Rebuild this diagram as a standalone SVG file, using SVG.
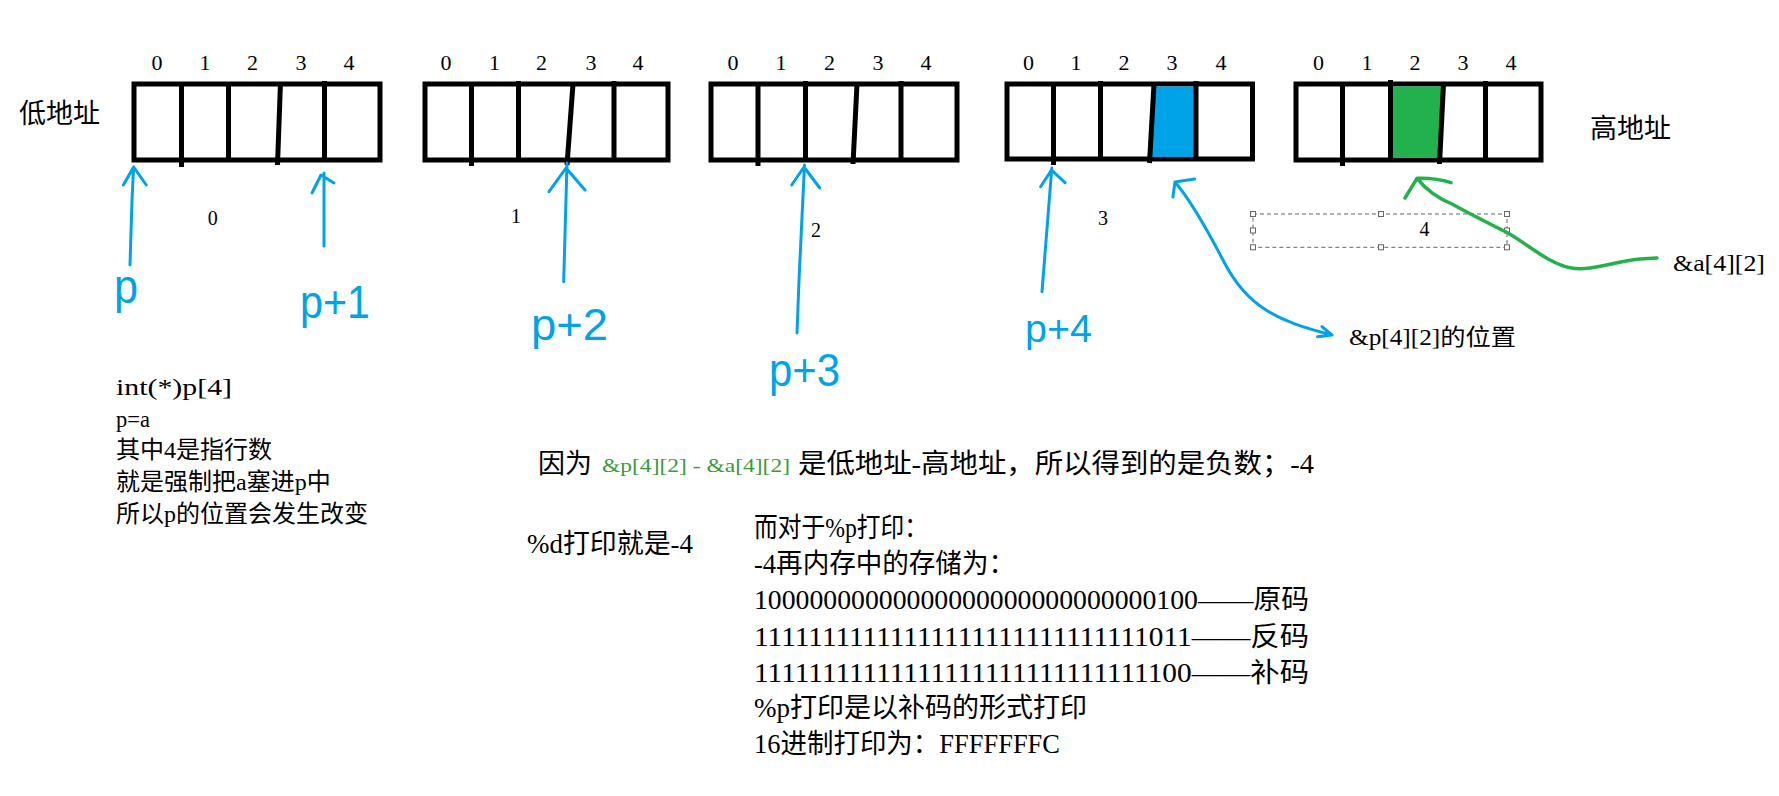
<svg xmlns="http://www.w3.org/2000/svg" width="1779" height="796" viewBox="0 0 1779 796">
<style>
.box{fill:#fff;stroke:#000;stroke-width:5}
.div{fill:none;stroke:#000;stroke-width:5;stroke-linecap:butt}
.idx{font-family:"Liberation Serif","Noto Sans CJK SC",serif;font-size:22px;fill:#000;text-anchor:middle}
.t{font-family:"Liberation Serif","Noto Sans CJK SC",serif;fill:#000}
.hw{font-family:"Liberation Sans","DejaVu Sans",sans-serif;fill:#00a2e8}
.blue{fill:none;stroke:#00a2e8;stroke-width:3;stroke-linecap:round;stroke-linejoin:round}
.green{fill:none;stroke:#22b14c;stroke-width:3.5;stroke-linecap:round;stroke-linejoin:round}
.hnd{fill:#fff;stroke:#666;stroke-width:1}
</style>
<rect width="1779" height="796" fill="#fff"/>

<g id="label-low"><text class="t" x="19" y="123" font-size="27">低地址</text></g>
<g id="label-high"><text class="t" x="1590" y="138" font-size="27">高地址</text></g>

<g id="row0">
<rect class="box" x="134" y="84" width="246" height="76"/>
<path class="div" d="M181.5,84V167 M228.5,84V160 M280.5,82L277.5,165 M324.5,81V160"/>
<text class="idx" x="157" y="70">0</text><text class="idx" x="205" y="70">1</text><text class="idx" x="252.5" y="70">2</text><text class="idx" x="301" y="70">3</text><text class="idx" x="349" y="70">4</text>
<text class="t" x="212.7" y="225" font-size="20" text-anchor="middle">0</text>
</g>

<g id="row1">
<rect class="box" x="425" y="84" width="243" height="76"/>
<path class="div" d="M471.5,84V166 M518.5,81V160 M573,84L567,165 M614,81V160"/>
<text class="idx" x="446" y="70">0</text><text class="idx" x="494.5" y="70">1</text><text class="idx" x="541.5" y="70">2</text><text class="idx" x="591" y="70">3</text><text class="idx" x="638" y="70">4</text>
<text class="t" x="516" y="223" font-size="20" text-anchor="middle">1</text>
</g>

<g id="row2">
<rect class="box" x="711" y="84" width="246" height="76"/>
<path class="div" d="M758,84V166 M805.5,81V160 M857,84L853,164 M901,81V160"/>
<text class="idx" x="733" y="70">0</text><text class="idx" x="781" y="70">1</text><text class="idx" x="829.5" y="70">2</text><text class="idx" x="878" y="70">3</text><text class="idx" x="926" y="70">4</text>
<text class="t" x="816" y="237" font-size="20" text-anchor="middle">2</text>
</g>

<g id="row3">
<rect class="box" x="1007" y="84" width="245.5" height="75"/>
<polygon points="1153,86.5 1195,86.5 1195,157 1150.5,157" fill="#00a2e8"/>
<path class="div" d="M1053.5,84V165 M1100.5,81V159 M1154,84L1149.5,163 M1196,81V159"/>
<text class="idx" x="1028.5" y="70">0</text><text class="idx" x="1076" y="70">1</text><text class="idx" x="1124" y="70">2</text><text class="idx" x="1172" y="70">3</text><text class="idx" x="1221" y="70">4</text>
<text class="t" x="1103" y="225" font-size="20" text-anchor="middle">3</text>
</g>

<g id="row4">
<rect class="box" x="1296" y="84" width="245" height="76"/>
<polygon points="1393,86.5 1441.5,86.5 1439.5,157.5 1393,157.5" fill="#22b14c"/>
<path class="div" d="M1342.5,84V166 M1390.5,80V160 M1443.5,84L1439.5,164 M1485.5,81V160"/>
<text class="idx" x="1318.5" y="70">0</text><text class="idx" x="1367" y="70">1</text><text class="idx" x="1415" y="70">2</text><text class="idx" x="1463" y="70">3</text><text class="idx" x="1511" y="70">4</text>
</g>

<g id="row4-label">
<rect x="1253" y="214" width="254" height="33.3" fill="none" stroke="#666" stroke-width="1" stroke-dasharray="4,3"/>
<rect class="hnd" x="1250.5" y="211.5" width="5" height="5"/><rect class="hnd" x="1378.5" y="211.5" width="5" height="5"/><rect class="hnd" x="1504.5" y="211.5" width="5" height="5"/>
<rect class="hnd" x="1250.5" y="228" width="5" height="5"/><rect class="hnd" x="1504.5" y="228" width="5" height="5"/>
<rect class="hnd" x="1250.5" y="244.8" width="5" height="5"/><rect class="hnd" x="1378.5" y="244.8" width="5" height="5"/><rect class="hnd" x="1504.5" y="244.8" width="5" height="5"/>
<text class="t" x="1424.5" y="236" font-size="20" text-anchor="middle">4</text>
</g>

<g id="connectors">
<path class="blue" d="M130,265 L132,200 L133.6,167 M123.4,185 L133.6,167 L146.3,185"/>
<path class="blue" d="M324,246 L324,173 M312,193 L321,175 L334,183"/>
<path class="blue" d="M563.7,281.7 L567,163 M549,191.7 L566,168 L585,190"/>
<path class="blue" d="M797,333 L799,280 L804.5,165 M791.7,185 L804,167 L819.8,188"/>
<path class="blue" d="M1042,291.7 L1051.8,168 M1040.6,186.7 L1051.5,170 L1065,182.7"/>
<path class="blue" d="M1194.6,179 L1175,182 L1173,197 M1175,182 C1192,202 1210,235 1224,262 C1236,285 1250,300 1266,310 C1285,322 1305,328 1332,335 M1322,326.7 L1332,335 L1317.5,336.7"/>
<path class="green" d="M1451,182.7 C1440,179 1428,178 1417,178.3 L1405,198 M1417,178.3 C1428,192 1440,199 1452,204 C1470,214 1490,224 1508,233 C1525,243 1535,252 1550,260 C1565,268 1575,270 1590,268 C1610,265 1625,260 1640,259 L1657,258"/>
</g>

<g id="ptr-labels">
<text class="hw" x="114" y="303" font-size="48" textLength="24" lengthAdjust="spacingAndGlyphs">p</text>
<text class="hw" x="300" y="318" font-size="46" textLength="70" lengthAdjust="spacingAndGlyphs">p+1</text>
<text class="hw" x="531" y="340" font-size="44" textLength="77" lengthAdjust="spacingAndGlyphs">p+2</text>
<text class="hw" x="769" y="386" font-size="46" textLength="71" lengthAdjust="spacingAndGlyphs">p+3</text>
<text class="hw" x="1025" y="342" font-size="38" textLength="67" lengthAdjust="spacingAndGlyphs">p+4</text>
</g>

<g id="label-p42"><text class="t" x="1349" y="345" font-size="23" textLength="167" lengthAdjust="spacingAndGlyphs">&amp;p[4][2]的位置</text></g>
<g id="label-a42"><text class="t" x="1673" y="271" font-size="23" textLength="92" lengthAdjust="spacingAndGlyphs">&amp;a[4][2]</text></g>

<g id="note-left" class="t" font-size="24">
<text x="116" y="395" textLength="116" lengthAdjust="spacingAndGlyphs">int(*)p[4]</text>
<text x="116" y="426.5" textLength="34" lengthAdjust="spacingAndGlyphs">p=a</text>
<text x="116" y="458">其中4是指行数</text>
<text x="116" y="490">就是强制把a塞进p中</text>
<text x="116" y="521.5">所以p的位置会发生改变</text>
</g>

<g id="note-because">
<text class="t" x="538" y="473" font-size="27">因为</text>
<text x="602" y="472" font-size="19" fill="#3a9a3a" font-family="Liberation Serif, Noto Sans CJK SC, serif" textLength="188" lengthAdjust="spacingAndGlyphs">&amp;p[4][2] - &amp;a[4][2]</text>
<text class="t" x="798" y="473" font-size="27.7" textLength="516" lengthAdjust="spacingAndGlyphs">是低地址-高地址，所以得到的是负数；-4</text>
</g>

<g id="note-d"><text class="t" x="527" y="553" font-size="27.7" textLength="166" lengthAdjust="spacingAndGlyphs">%d打印就是-4</text></g>

<g id="note-p" class="t" font-size="27.7">
<text x="754" y="537" textLength="174" lengthAdjust="spacingAndGlyphs">而对于%p打印：</text>
<text x="754" y="573" textLength="261" lengthAdjust="spacingAndGlyphs">-4再内存中的存储为：</text>
<text x="754" y="609" textLength="555" lengthAdjust="spacingAndGlyphs">10000000000000000000000000000100——原码</text>
<text x="754" y="646" textLength="555" lengthAdjust="spacingAndGlyphs">11111111111111111111111111111011——反码</text>
<text x="754" y="682" textLength="555" lengthAdjust="spacingAndGlyphs">11111111111111111111111111111100——补码</text>
<text x="754" y="717" textLength="333" lengthAdjust="spacingAndGlyphs">%p打印是以补码的形式打印</text>
<text x="754" y="753" textLength="306" lengthAdjust="spacingAndGlyphs">16进制打印为：FFFFFFFC</text>
</g>
</svg>
